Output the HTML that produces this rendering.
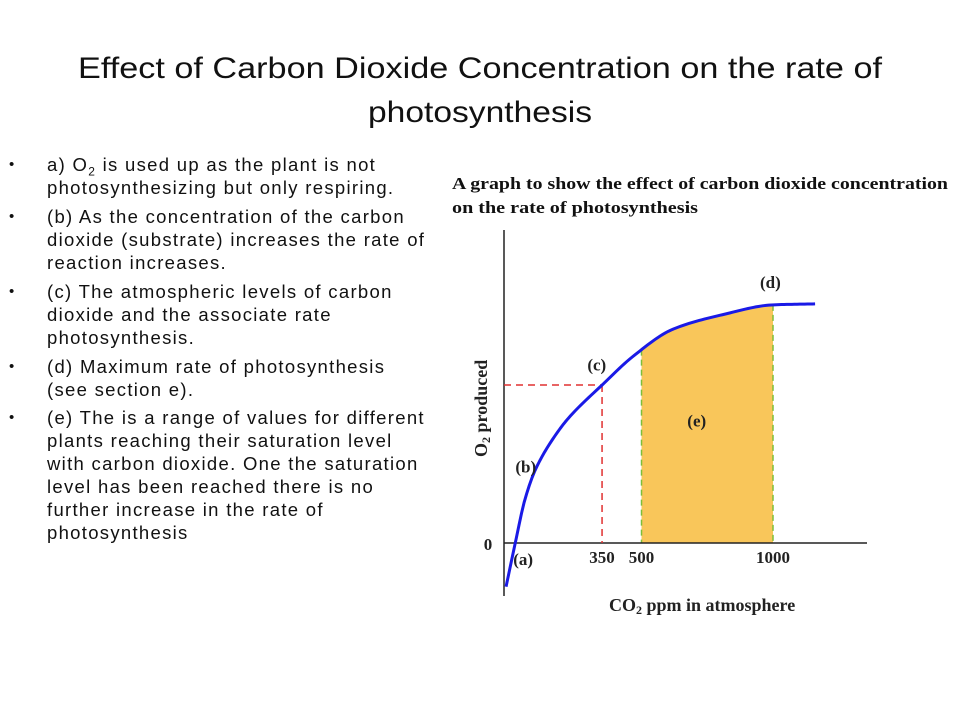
<!DOCTYPE html>
<html><head><meta charset="utf-8"><style>
html,body{margin:0;padding:0;background:#fff;}
#page{position:relative;width:960px;height:720px;overflow:hidden;background:#fff;font-family:"Liberation Sans",sans-serif;}
#bullets{position:absolute;left:0;top:150px;width:429px;height:400px;overflow:hidden;font-size:18.5px;letter-spacing:1.3px;line-height:23px;color:#111;}
.item{position:absolute;left:47px;white-space:nowrap;}
.dot{position:absolute;left:9px;font-size:15px;}
svg{position:absolute;left:0;top:0;}
</style></head><body>
<div id="page">
<svg width="960" height="720">
  <text x="78" y="78" font-family="Liberation Sans, sans-serif" font-size="30" fill="#111" textLength="804" lengthAdjust="spacingAndGlyphs">Effect of Carbon Dioxide Concentration on the rate of</text>
  <text x="368" y="122" font-family="Liberation Sans, sans-serif" font-size="30" fill="#111" textLength="224" lengthAdjust="spacingAndGlyphs">photosynthesis</text>
  <text x="452" y="189" font-family="Liberation Serif, serif" font-weight="bold" font-size="17" fill="#111" textLength="496" lengthAdjust="spacingAndGlyphs">A graph to show the effect of carbon dioxide concentration</text>
  <text x="452" y="213" font-family="Liberation Serif, serif" font-weight="bold" font-size="17" fill="#111" textLength="246" lengthAdjust="spacingAndGlyphs">on the rate  of photosynthesis</text>
  <g id="chart"></g>
</svg>
<div id="bullets">
  <span class="dot" style="top:3px">•</span><div class="item" style="top:3px">a) O<sub style="font-size:12px;line-height:0">2</sub> is used up as the plant is not<br>photosynthesizing but only respiring.</div>
  <span class="dot" style="top:55px">•</span><div class="item" style="top:55px">(b) As the concentration of the carbon<br>dioxide (substrate) increases the rate of<br>reaction increases.</div>
  <span class="dot" style="top:130px">•</span><div class="item" style="top:130px">(c) The atmospheric levels of carbon<br>dioxide and the associate rate<br>photosynthesis.</div>
  <span class="dot" style="top:205px">•</span><div class="item" style="top:205px">(d) Maximum rate of photosynthesis<br>(see section e).</div>
  <span class="dot" style="top:256px">•</span><div class="item" style="top:256px">(e) The is a range of values for different<br>plants reaching their saturation level<br>with carbon dioxide. One the saturation<br>level has been reached there is no<br>further increase in the rate of<br>photosynthesis</div>
</div>
</div>
<script>
const curveX = [-15, 20, 57, 100, 190, 240, 350, 470, 620, 810, 1000, 1160];
const curveY = [-18, 0, 18, 31, 47, 53.5, 65, 77, 88, 94, 98, 98.4];
const xTicks = [350, 500, 1000];
const xTickLabels = ["350", "500", "1000"];
const markerX = 350;
const rangeStart = 500;
const rangeEnd = 1000;
const pointLabels = ["(a)", "(b)", "(c)", "(d)", "(e)"];
const pointLabelX = [50, 60, 330, 990, 710];
const pointLabelY = [-9, 29, 71, 105, 48];

const NS = "http://www.w3.org/2000/svg";
const g = document.getElementById("chart");
const X0 = 504, Y0 = 543;
const sx = v => 510 + v * 0.263;
const sy = v => 543 - v * 2.43;
function mk(tag, attrs) { const e = document.createElementNS(NS, tag); for (const k in attrs) e.setAttribute(k, attrs[k]); g.appendChild(e); return e; }
// monotone cubic interpolation (Fritsch-Carlson)
const n = curveX.length;
const dk = [], m = [];
for (let i = 0; i < n - 1; i++) dk.push((curveY[i + 1] - curveY[i]) / (curveX[i + 1] - curveX[i]));
m.push(dk[0]);
for (let i = 1; i < n - 1; i++) m.push(dk[i - 1] * dk[i] <= 0 ? 0 : 2 / (1 / dk[i - 1] + 1 / dk[i]));
m.push(dk[n - 2]);
function interp(x) {
  let i = 0;
  while (i < n - 2 && x > curveX[i + 1]) i++;
  const h = curveX[i + 1] - curveX[i], t = (x - curveX[i]) / h;
  const h00 = 2*t*t*t - 3*t*t + 1, h10 = t*t*t - 2*t*t + t, h01 = -2*t*t*t + 3*t*t, h11 = t*t*t - t*t;
  return h00 * curveY[i] + h10 * h * m[i] + h01 * curveY[i + 1] + h11 * h * m[i + 1];
}
function pathBetween(a, b) {
  let d = "";
  const steps = 120;
  for (let k = 0; k <= steps; k++) {
    const x = a + (b - a) * k / steps;
    d += (k ? " L" : "M") + sx(x).toFixed(2) + "," + sy(interp(x)).toFixed(2);
  }
  return d;
}
// shaded range
const fd = pathBetween(rangeStart, rangeEnd) + " L" + sx(rangeEnd) + "," + sy(0) + " L" + sx(rangeStart) + "," + sy(0) + " Z";
const fill = mk("path", { d: fd, fill: "#F9C65A", stroke: "none" });


[rangeStart, rangeEnd].forEach(v => {
  const l = mk("line", { x1: sx(v), x2: sx(v), y1: sy(interp(v)), y2: sy(0), stroke: "#7DBF3A", "stroke-width": 1.5, "stroke-dasharray": "6,4" });
  
  
});
// axes
const ya = mk("line", { x1: X0, x2: X0, y1: 230, y2: 596, stroke: "#222", "stroke-width": 1.5 });


const xa = mk("line", { x1: X0, x2: 867, y1: Y0, y2: Y0, stroke: "#222", "stroke-width": 1.5 });


// red marker lines
const mv = interp(markerX);
const rh = mk("line", { x1: X0, x2: sx(markerX), y1: sy(mv), y2: sy(mv), stroke: "#E03030", "stroke-width": 1.5, "stroke-dasharray": "7,5" });


const rv = mk("line", { x1: sx(markerX), x2: sx(markerX), y1: sy(mv), y2: sy(0), stroke: "#E03030", "stroke-width": 1.5, "stroke-dasharray": "7,5" });


// curve
const c = mk("path", { d: pathBetween(curveX[0], curveX[n - 1]), fill: "none", stroke: "#1A1AE6", "stroke-width": 3, "stroke-linejoin": "round" });


// tick labels
xTicks.forEach((v, i) => {
  const t = mk("text", { x: sx(v), y: 563, "text-anchor": "middle", "font-family": "Liberation Serif, serif", "font-weight": "bold", "font-size": 17, fill: "#222" });
  t.textContent = xTickLabels[i];
  
  
});
const z = mk("text", { x: 488, y: 550, "text-anchor": "middle", "font-family": "Liberation Serif, serif", "font-weight": "bold", "font-size": 17, fill: "#222" });
z.textContent = "0";


// point labels
pointLabels.forEach((s, i) => {
  const t = mk("text", { x: sx(pointLabelX[i]), y: sy(pointLabelY[i]), "text-anchor": "middle", "font-family": "Liberation Serif, serif", "font-weight": "bold", "font-size": 17, fill: "#222" });
  t.textContent = s;
  
  
});
// axis titles
const xt = mk("text", { x: 609, y: 611, "font-family": "Liberation Serif, serif", "font-weight": "bold", "font-size": 18, fill: "#222" });
xt.innerHTML = 'CO<tspan font-size="12" dy="3">2</tspan><tspan dy="-3">  ppm in atmosphere</tspan>';


const yt = mk("text", { x: 0, y: 0, transform: "translate(487,457) rotate(-90)", "font-family": "Liberation Serif, serif", "font-weight": "bold", "font-size": 18, fill: "#222" });
yt.innerHTML = 'O<tspan font-size="12" dy="3">2</tspan><tspan dy="-3"> produced</tspan>';


</script>
</body></html>
